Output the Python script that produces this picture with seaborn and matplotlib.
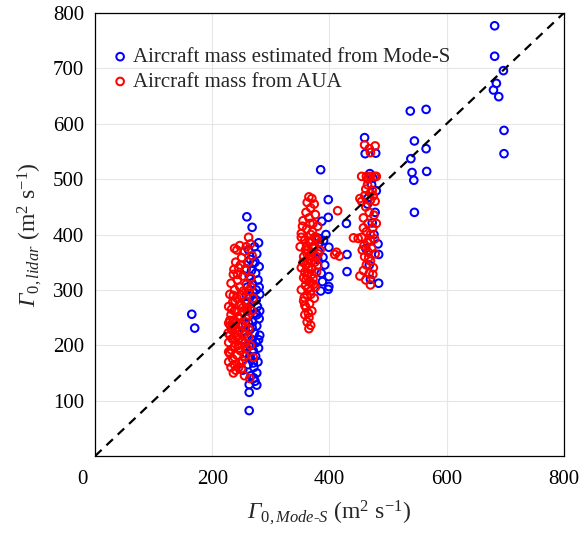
import matplotlib
matplotlib.use("Agg")
import matplotlib.pyplot as plt
import matplotlib.transforms as mtransforms
import seaborn as sns
import pandas as pd

# ---- data (m2 s-1) ----
# blue: mass estimated from Mode-S
blue_x = [259, 268, 279, 272, 262, 276, 265, 270, 280, 258, 274, 263, 278, 268, 260, 275, 281, 265,
          271, 258, 277, 266, 274, 262, 280, 269, 257, 276, 264, 272, 281, 260, 268, 275, 263, 279,
          270, 258, 274, 266, 278, 261, 271, 252, 276, 266, 271, 273, 276, 263, 263, 263, 268, 270,
          262, 276, 255, 280, 267, 273, 258, 279, 264, 270, 260, 275, 268, 256, 281, 265,
          165, 170,
          385, 398, 398, 387, 429, 382, 390, 399, 389, 430, 399, 430, 399, 398, 385, 381, 392, 386,
          383, 394, 380, 388,
          460, 461, 479, 480, 466, 473, 483, 484, 470, 484, 469, 474, 465, 476, 462, 468, 472, 478,
          538, 565, 545, 565, 539, 541, 566, 544, 545,
          682, 682, 697, 685, 680, 689, 698, 698]
blue_y = [432, 413, 385, 378, 372, 365, 355, 348, 342, 338, 330, 325, 318, 312, 305, 300, 292, 288,
          280, 275, 270, 265, 258, 252, 248, 242, 238, 235, 228, 222, 218, 215, 210, 205, 200, 195,
          190, 185, 180, 175, 170, 165, 160, 155, 150, 145, 141, 135, 128, 129, 115, 82, 200, 295,
          240, 255, 225, 305, 335, 350, 290, 210, 180, 168, 262, 282, 232, 198, 262, 320,
          256, 231,
          517, 463, 431, 424, 420, 393, 389, 377, 359, 364, 324, 333, 306, 301, 298, 370, 345, 330,
          385, 400, 355, 315,
          575, 546, 547, 479, 466, 421, 383, 364, 319, 312, 510, 502, 455, 400, 375, 345, 490, 440,
          623, 626, 569, 555, 537, 512, 514, 498, 440,
          777, 722, 696, 673, 661, 649, 588, 546]

# red: mass from AUA
red_x = [262, 265, 258, 247, 242, 255, 268, 250, 240, 262, 245, 257, 236, 252, 266, 243, 232, 258,
         247, 238, 262, 230, 250, 242, 256, 235, 228, 246, 260, 238, 252, 232, 244, 258, 236, 228,
         250, 240, 262, 233, 246, 255, 230, 242, 236, 250, 228, 245, 238, 260, 232, 248, 230, 242,
         255, 235, 228, 246, 238, 232, 250, 240, 236, 255, 264, 245, 268, 270, 266, 248, 233, 241,
         256, 262, 252, 228, 244, 258, 236, 230, 227, 249, 243, 237, 261, 253, 235, 247, 265, 270,
         238, 240, 244, 234, 252, 239, 246, 231, 256, 242,
         365, 370, 362, 374, 368, 360, 376, 365, 355, 372, 380, 361, 352, 368, 377, 358, 366, 374,
         350, 362, 370, 381, 356, 366, 375, 360, 352, 370, 378, 363, 356, 372, 366, 359, 376, 352,
         368, 362, 374, 356, 366, 360, 370, 358, 365, 362, 368, 365, 380, 384, 355, 373, 357, 377,
         352, 362, 369, 359, 371, 364, 375, 369, 363, 358, 366, 373, 379, 354, 367, 361,
         360, 364, 368, 362, 366, 370, 358, 364,
         414, 412, 417, 409, 441,
         460, 468, 478, 470, 455, 463, 470, 477, 465, 473, 452, 460, 470, 478, 462, 468, 476, 458,
         466, 474, 463, 470, 455, 477, 465, 459, 472, 466, 478, 460, 470, 463, 475, 458, 468, 452,
         470, 462, 474, 467, 456, 480, 480, 462, 449, 458, 470, 465, 475, 455, 470]
red_y = [395, 383, 378, 380, 372, 370, 362, 358, 350, 350, 340, 335, 328, 325, 322, 318, 312, 310,
         305, 300, 298, 292, 290, 285, 280, 278, 270, 272, 268, 262, 260, 255, 250, 248, 245, 240,
         238, 232, 230, 228, 225, 220, 218, 215, 210, 208, 205, 200, 198, 195, 192, 190, 185, 182,
         180, 175, 170, 168, 165, 160, 158, 155, 150, 145, 140, 160, 262, 285, 305, 345, 265, 242,
         232, 215, 172, 188, 210, 265, 290, 245, 222, 275, 328, 337, 255, 298, 235, 248, 200, 178,
         375, 228, 252, 212, 268, 280, 195, 236, 204, 262,
         468, 465, 458, 455, 448, 440, 436, 430, 425, 420, 415, 410, 402, 400, 395, 390, 385, 380,
         378, 372, 368, 365, 360, 356, 350, 345, 340, 338, 332, 330, 322, 320, 315, 308, 305, 300,
         298, 290, 285, 280, 275, 268, 262, 255, 250, 242, 236, 230, 345, 372, 350, 310, 286, 360,
         395, 325, 350, 372, 405, 340, 395, 312, 302, 332, 362, 375, 390, 415, 420, 380,
         318, 348, 292, 365, 388, 328, 272, 258,
         443, 368, 361, 364, 394,
         562, 555, 560, 548, 505, 505, 505, 505, 490, 480, 465, 470, 462, 460, 450, 440, 435, 430,
         420, 412, 405, 400, 395, 392, 385, 380, 375, 368, 365, 360, 352, 345, 340, 335, 330, 325,
         309, 318, 328, 358, 372, 420, 505, 482, 393, 412, 390, 500, 470, 460, 475]

diag = [0, 800]
xticks = [0, 200, 400, 600, 800]
yticks = [100, 200, 300, 400, 500, 600, 700, 800]

blue_df = pd.DataFrame({"x": blue_x, "y": blue_y})
red_df = pd.DataFrame({"x": red_x, "y": red_y})

sns.set_style("whitegrid")
plt.rcParams["font.family"] = ["Liberation Serif", "DejaVu Serif"]
# italic Gamma: rm/it point to the italic face, sf is used for upright bits
plt.rcParams["mathtext.fontset"] = "custom"
plt.rcParams["mathtext.rm"] = "Liberation Serif:italic"
plt.rcParams["mathtext.it"] = "Liberation Serif:italic"
plt.rcParams["mathtext.sf"] = "Liberation Serif"

fig = plt.figure(figsize=(5.8, 5.33), dpi=100)
ax = fig.add_axes([0.164, 0.1445, 0.808, 0.831])

sns.scatterplot(data=blue_df, x="x", y="y", ax=ax, marker="o", s=30,
                facecolor="none", edgecolor="#0000ff", linewidth=1.45,
                label="Aircraft mass estimated from Mode-S")
sns.scatterplot(data=red_df, x="x", y="y", ax=ax, marker="o", s=30,
                facecolor="none", edgecolor="#ff0000", linewidth=1.45,
                label="Aircraft mass from AUA")
sns.lineplot(x=diag, y=diag, ax=ax, color="black", linewidth=1.6,
             linestyle=(0, (4, 3)))

ax.set_xlim(0, 800)
ax.set_ylim(0, 800)
ax.set_xticks(xticks)
ax.set_yticks(yticks)
ax.tick_params(direction="in", length=3, labelsize=15, colors="black")
ax.tick_params(axis="x", pad=10)
ax.tick_params(axis="y", pad=8)
ax.grid(True, color="#e6e6e6", linewidth=0.8)
for s in ax.spines.values():
    s.set_color("black")
    s.set_linewidth(0.9)

# the "0" sits left of the corner in the original
zero_lab = ax.get_xticklabels()[0]
zero_lab.set_transform(zero_lab.get_transform() +
                       mtransforms.ScaledTranslation(-0.13, 0, fig.dpi_scale_trans))

ax.set_xlabel(r"$\Gamma_{\mathsf{0},Mode\text{-}S}$ (m$^{\mathsf{2}}$ s$^{\mathsf{-1}}$)",
              fontsize=17, labelpad=7)
ax.set_ylabel(r"$\Gamma_{\mathsf{0},lidar}$ (m$^{\mathsf{2}}$ s$^{\mathsf{-1}}$)",
              fontsize=17, labelpad=6)

ax.legend(loc="upper left", bbox_to_anchor=(0.0, 0.955), frameon=False, fontsize=15,
          handletextpad=0.1, labelspacing=0.25, borderaxespad=0.3, handlelength=1.0)

fig.savefig("out.png", dpi=100)
